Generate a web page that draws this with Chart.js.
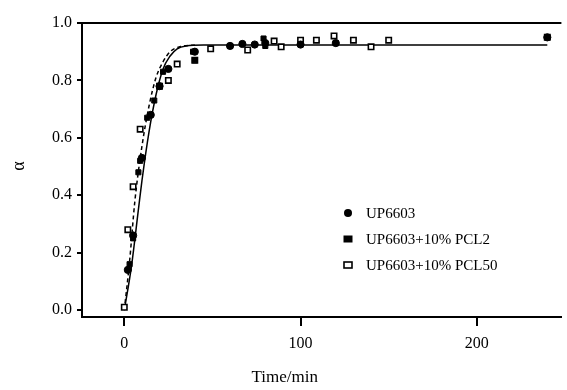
<!DOCTYPE html>
<html>
<head>
<meta charset="utf-8">
<script src="https://cdn.jsdelivr.net/npm/chart.js@4"></script>
<style>
  body { margin: 0; background: #fff; }
  canvas { display: block; }
</style>
</head>
<body>
<canvas id="myChart" width="567" height="390"></canvas>
<script>
// Measured points (time in min, conversion alpha)
const seriesNames = ["UP6603", "UP6603+10% PCL2", "UP6603+10% PCL50"];

const up6603T = [2, 5, 10, 15, 20, 25, 40, 60, 67, 74, 80, 100, 120, 240];
const up6603A = [0.14, 0.26, 0.53, 0.68, 0.78, 0.84, 0.9, 0.92, 0.927, 0.925, 0.93, 0.925, 0.93, 0.95];

const pcl2T = [3, 5, 8, 9, 13, 17, 22, 39, 40, 60, 79, 80, 100, 120];
const pcl2A = [0.16, 0.25, 0.48, 0.52, 0.67, 0.73, 0.83, 0.9, 0.87, 0.92, 0.946, 0.92, 0.925, 0.93];

const pcl50T = [0, 2, 5, 9, 20, 25, 30, 40, 49, 70, 85, 89, 100, 109, 119, 130, 140, 150, 240];
const pcl50A = [0.01, 0.28, 0.43, 0.63, 0.78, 0.8, 0.857, 0.87, 0.91, 0.906, 0.937, 0.917, 0.94, 0.94, 0.955, 0.94, 0.917, 0.94, 0.95];

// Fitted curves
const fitSolidT = [0, 4, 8, 10, 14, 18, 22, 26, 30, 35, 45, 240];
const fitSolidA = [0, 0.15, 0.35, 0.45, 0.62, 0.75, 0.84, 0.885, 0.91, 0.92, 0.923, 0.923];
const fitDashT = [0, 3, 6, 10, 14, 18, 22, 26, 32, 40];
const fitDashA = [0, 0.17, 0.38, 0.57, 0.71, 0.81, 0.865, 0.9, 0.918, 0.923];

const xTicks = [0, 100, 200];
const yTicks = [0, 0.2, 0.4, 0.6, 0.8, 1.0];

const toXY = (t, a) => t.map((x, i) => ({ x: x, y: a[i] }));
const serif = "'Liberation Serif', 'Times New Roman', serif";

// Draw the top frame line, axis titles and the legend box
const extras = {
  id: "extras",
  afterDraw(chart) {
    const ctx = chart.ctx;
    const area = chart.chartArea;
    ctx.save();
    ctx.strokeStyle = "#000";
    ctx.lineWidth = 2;
    ctx.beginPath();
    ctx.moveTo(area.left - 1, area.top);
    ctx.lineTo(area.right, area.top);
    ctx.stroke();

    ctx.fillStyle = "#000";
    ctx.font = "17px " + serif;
    ctx.textAlign = "center";
    ctx.textBaseline = "middle";
    ctx.fillText("Time/min", chart.scales.x.getPixelForValue(91), 378);

    ctx.save();
    ctx.translate(19, 166);
    ctx.rotate(-Math.PI / 2);
    ctx.font = "18px " + serif;
    ctx.fillText("\u03b1", 0, 0);
    ctx.restore();

    // legend
    ctx.font = "15px " + serif;
    ctx.textAlign = "left";
    const rows = [213, 239, 265];
    rows.forEach((y, i) => {
      const ds = chart.data.datasets[i];
      ctx.fillStyle = ds.backgroundColor;
      ctx.strokeStyle = "#000";
      ctx.lineWidth = ds.borderWidth;
      if (ds.pointStyle === "circle") {
        ctx.beginPath();
        ctx.arc(348, y, 4, 0, Math.PI * 2);
        ctx.fill();
      } else {
        ctx.fillRect(344, y - 3, 8, 6);
        ctx.strokeRect(344, y - 3, 8, 6);
      }
      ctx.fillStyle = "#000";
      ctx.fillText(seriesNames[i], 366, y + 1);
    });
    ctx.restore();
  },
};

new Chart(document.getElementById("myChart"), {
  type: "scatter",
  data: {
    datasets: [
      {
        label: seriesNames[0],
        data: toXY(up6603T, up6603A),
        pointStyle: "circle",
        pointRadius: 3.6,
        backgroundColor: "#000",
        borderColor: "#000",
        borderWidth: 1,
      },
      {
        label: seriesNames[1],
        data: toXY(pcl2T, pcl2A),
        pointStyle: "rect",
        pointRadius: 3.6,
        backgroundColor: "#000",
        borderColor: "#000",
        borderWidth: 1,
      },
      {
        label: seriesNames[2],
        data: toXY(pcl50T, pcl50A),
        pointStyle: "rect",
        pointRadius: 3.8,
        backgroundColor: "#fff",
        borderColor: "#000",
        borderWidth: 1.6,
      },
      {
        label: "fit",
        data: toXY(fitSolidT, fitSolidA),
        showLine: true,
        pointRadius: 0,
        borderColor: "#000",
        borderWidth: 1.5,
        cubicInterpolationMode: "monotone",
      },
      {
        label: "fit2",
        data: toXY(fitDashT, fitDashA),
        showLine: true,
        pointRadius: 0,
        borderColor: "#000",
        borderWidth: 1.5,
        borderDash: [4, 3],
        cubicInterpolationMode: "monotone",
      },
    ],
  },
  options: {
    responsive: false,
    animation: false,
    layout: { padding: { top: 23, right: 2, left: 0, bottom: 0 } },
    plugins: { legend: { display: false }, tooltip: { enabled: false } },
    scales: {
      x: {
        type: "linear",
        min: -24,
        max: 248,
        afterFit: (s) => { s.height = 73; },
        afterBuildTicks: (s) => { s.ticks = xTicks.map((v) => ({ value: v })); },
        border: { color: "#000", width: 2 },
        grid: { drawOnChartArea: false, color: "#000", lineWidth: 2, tickLength: 9 },
        ticks: { color: "#000", font: { family: serif, size: 16 }, padding: 8, maxRotation: 0 },
      },
      y: {
        min: -0.024,
        max: 1.0,
        afterFit: (s) => { s.width = 82; },
        afterBuildTicks: (s) => { s.ticks = yTicks.map((v) => ({ value: v })); },
        border: { color: "#000", width: 2 },
        grid: { drawOnChartArea: false, color: "#000", lineWidth: 2, tickLength: 5 },
        ticks: { color: "#000", font: { family: serif, size: 16 }, padding: 5, callback: (v) => v.toFixed(1) },
      },
    },
  },
  plugins: [extras],
});
</script>
</body>
</html>
